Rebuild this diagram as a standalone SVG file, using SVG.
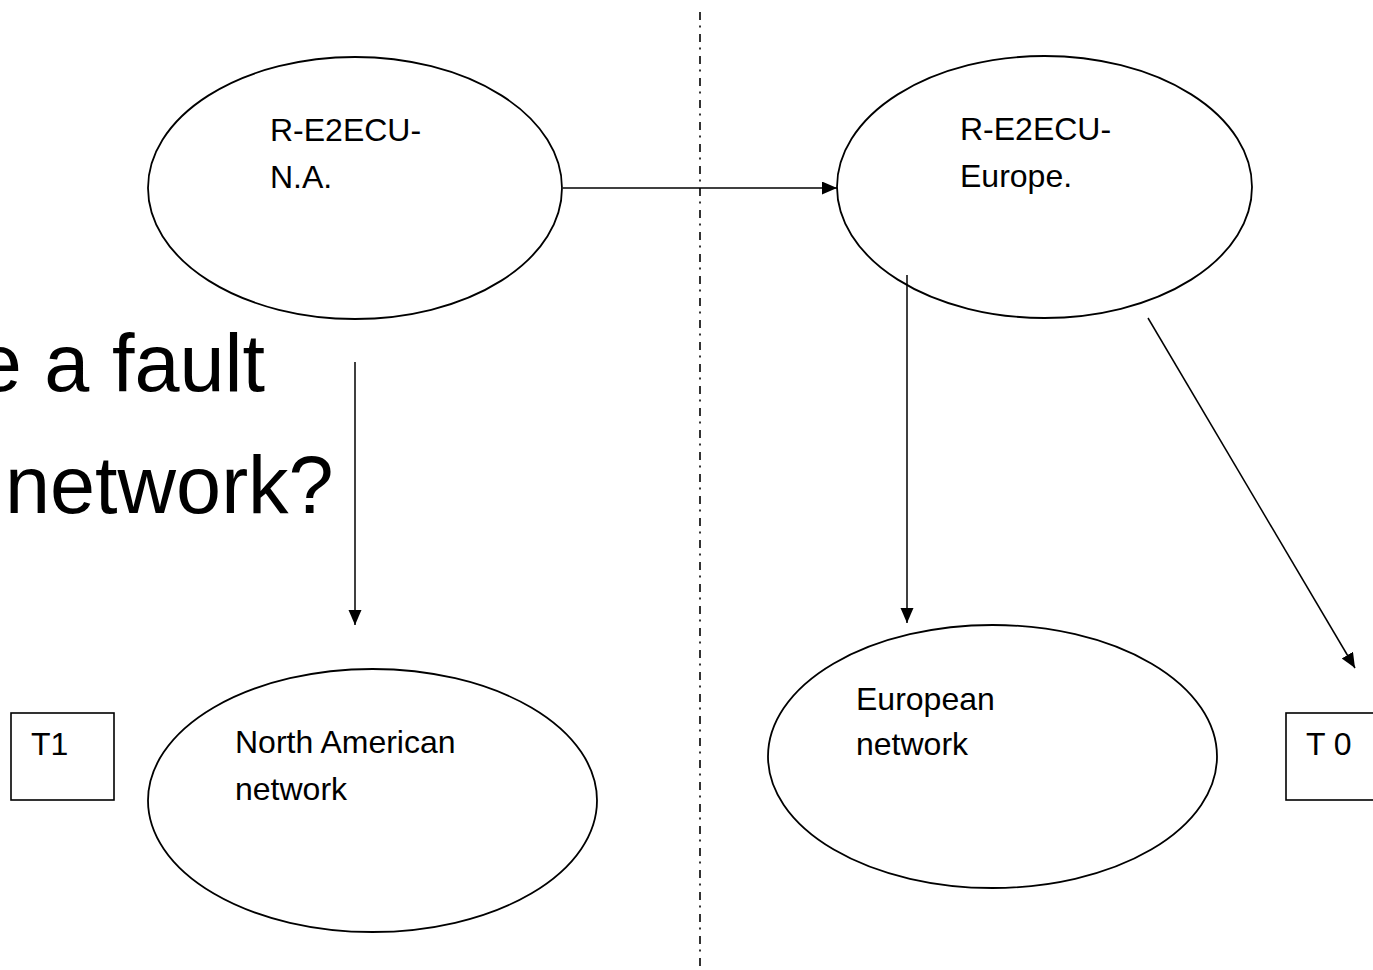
<svg xmlns="http://www.w3.org/2000/svg" width="1373" height="970" viewBox="0 0 1373 970">
<style>
.shape{fill:#fff;stroke:#000;stroke-width:1.8}
.box{fill:#fff;stroke:#000;stroke-width:1.6}
.lbl{font-family:"Liberation Sans",Arial,sans-serif;font-size:32px;fill:#000}
.big{font-family:"Liberation Sans",Arial,sans-serif;font-size:81px;fill:#000}
.conn{stroke:#000;stroke-width:1.5;fill:none}
.divider{stroke:#000;stroke-width:1.6;fill:none;stroke-dasharray:8 5.5 2 6.5}
</style>
<defs>
<marker id="arr" markerUnits="userSpaceOnUse" markerWidth="16" markerHeight="14" refX="15" refY="6.5" orient="auto">
<path d="M0,0 L15,6.5 L0,13 z" fill="#000"/>
</marker>
</defs>
<rect width="1373" height="970" fill="#fff"/>
<g id="title">
<text class="big" x="265" y="391" text-anchor="end">e a fault</text>
<text class="big" x="5" y="513">network?</text>
</g>
<g id="divider">
<line class="divider" x1="700" y1="12" x2="700" y2="968"/>
</g>
<g id="node-re2ecu-na">
<ellipse class="shape" cx="355" cy="188" rx="207" ry="131"/>
<text class="lbl" x="270" y="141">R-E2ECU-</text>
<text class="lbl" x="270" y="188">N.A.</text>
</g>
<g id="node-re2ecu-europe">
<ellipse class="shape" cx="1044.5" cy="187" rx="207.5" ry="131"/>
<text class="lbl" x="960" y="140">R-E2ECU-</text>
<text class="lbl" x="960" y="187">Europe.</text>
</g>
<g id="node-na-network">
<ellipse class="shape" cx="372.5" cy="800.5" rx="224.5" ry="131.5"/>
<text class="lbl" x="235" y="753">North American</text>
<text class="lbl" x="235" y="800">network</text>
</g>
<g id="node-eu-network">
<ellipse class="shape" cx="992.5" cy="756.5" rx="224.5" ry="131.5"/>
<text class="lbl" x="856" y="710">European</text>
<text class="lbl" x="856" y="755">network</text>
</g>
<g id="node-t1">
<rect class="box" x="11" y="713" width="103" height="87"/>
<text class="lbl" x="31" y="755">T1</text>
</g>
<g id="node-t0">
<rect class="box" x="1286" y="713" width="103" height="87"/>
<text class="lbl" x="1306" y="755">T 0</text>
</g>
<g id="connectors">
<line class="conn" x1="563" y1="188" x2="837" y2="188" marker-end="url(#arr)"/>
<line class="conn" x1="355" y1="362" x2="355" y2="625" marker-end="url(#arr)"/>
<line class="conn" x1="907" y1="275" x2="907" y2="623" marker-end="url(#arr)"/>
<line class="conn" x1="1148" y1="318" x2="1355" y2="668" marker-end="url(#arr)"/>
</g>
</svg>
